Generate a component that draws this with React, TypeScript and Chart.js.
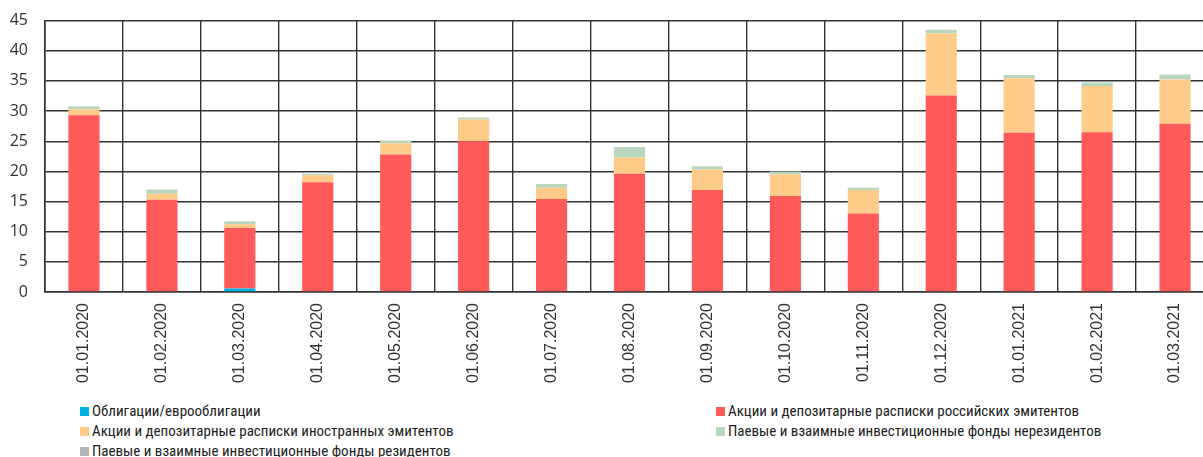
import React, { useEffect, useRef } from "react";
import { Chart, registerables } from "chart.js";

Chart.register(...registerables);

const categories = [
  "01.01.2020", "01.02.2020", "01.03.2020", "01.04.2020", "01.05.2020",
  "01.06.2020", "01.07.2020", "01.08.2020", "01.09.2020", "01.10.2020",
  "01.11.2020", "01.12.2020", "01.01.2021", "01.02.2021", "01.03.2021",
];

const bonds = [0, 0, 0.6, 0, 0, 0, 0, 0, 0, 0, 0, 0, 0, 0, 0];
const russianShares = [29.3, 15.3, 10.0, 18.2, 22.8, 25.0, 15.4, 19.6, 16.9, 15.9, 13.0, 32.6, 26.4, 26.5, 27.9];
const foreignShares = [1.0, 1.0, 0.65, 1.15, 1.85, 3.6, 1.9, 2.7, 3.4, 3.6, 3.9, 10.25, 9.05, 7.65, 7.35];
const nonResidentFunds = [0.5, 0.7, 0.5, 0.25, 0.45, 0.35, 0.6, 1.75, 0.55, 0.5, 0.4, 0.65, 0.55, 0.6, 0.8];
const residentFunds = [0, 0, 0, 0, 0, 0, 0, 0, 0, 0, 0, 0, 0, 0, 0];

const yTicks = [0, 5, 10, 15, 20, 25, 30, 35, 40, 45];

const seriesNames = [
  "Облигации/еврооблигации",
  "Акции и депозитарные расписки российских эмитентов",
  "Акции и депозитарные расписки иностранных эмитентов",
  "Паевые и взаимные инвестиционные фонды нерезидентов",
  "Паевые и взаимные инвестиционные фонды резидентов",
];
const seriesColors = ["#00b2e6", "#ff5a5a", "#ffcb88", "#b9d7bd", "#b4b4b4"];

const legendLayout = [
  { left: 80, top: 405 },
  { left: 716, top: 405 },
  { left: 80, top: 425 },
  { left: 716, top: 425 },
  { left: 80, top: 445 },
];

export default function App() {
  const canvasRef = useRef<HTMLCanvasElement | null>(null);

  useEffect(() => {
    const canvas = canvasRef.current;
    if (!canvas) return;
    const seriesData = [bonds, russianShares, foreignShares, nonResidentFunds, residentFunds];
    const chart = new Chart(canvas, {
      type: "bar",
      data: {
        labels: categories,
        datasets: seriesData.map((d, i) => ({
          label: seriesNames[i],
          data: d,
          backgroundColor: seriesColors[i],
          borderWidth: 0,
          barPercentage: 0.4,
          categoryPercentage: 1,
        })),
      },
      options: {
        responsive: false,
        animation: false,
        layout: { padding: { top: 14, left: 0, right: 0, bottom: 0 } },
        plugins: { legend: { display: false }, tooltip: { enabled: false } },
        scales: {
          x: {
            stacked: true,
            grid: { color: "#333", lineWidth: 1.4, drawTicks: false, offset: true },
            border: { color: "#333", width: 1.6 },
            ticks: {
              minRotation: 90,
              maxRotation: 90,
              padding: 11,
              color: "#333",
              font: { family: "'Liberation Sans', Arial, sans-serif", size: 16 },
            },
            afterFit: (scale: any) => {
              scale.height = 100;
            },
          },
          y: {
            stacked: true,
            min: 0,
            max: 45,
            afterBuildTicks: (scale: any) => {
              scale.ticks = yTicks.map((v) => ({ value: v }));
            },
            grid: { color: "#333", lineWidth: 1.4, drawTicks: false },
            border: { color: "#333", width: 1.6 },
            ticks: {
              padding: 17,
              color: "#333",
              font: { family: "'Open Sans', sans-serif", size: 16 },
            },
            afterFit: (scale: any) => {
              scale.width = 45;
            },
          },
        },
      },
    });
    return () => chart.destroy();
  }, []);

  return (
    <div
      style={{
        position: "fixed",
        left: 0,
        top: 0,
        width: 1203,
        height: 457,
        overflow: "hidden",
        background: "#fff",
      }}
    >
      <canvas
        ref={canvasRef}
        width={1214}
        height={398}
        style={{ display: "block", position: "absolute", left: 0, top: -6 }}
      />
      {seriesNames.map((name, i) => (
        <div
          key={name}
          style={{
            position: "absolute",
            left: legendLayout[i].left,
            top: legendLayout[i].top - 3,
            display: "flex",
            alignItems: "center",
            whiteSpace: "nowrap",
            fontFamily: "'Liberation Sans Narrow', 'Roboto Condensed', Roboto, sans-serif",
            fontSize: 15,
            color: "#222",
            lineHeight: "18px",
          }}
        >
          <span
            style={{
              display: "inline-block",
              width: 9,
              height: 9,
              background: seriesColors[i],
              marginRight: 3,
            }}
          />
          <span>{name}</span>
        </div>
      ))}
    </div>
  );
}
